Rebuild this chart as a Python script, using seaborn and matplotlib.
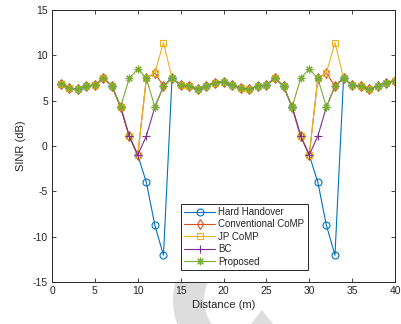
import matplotlib
matplotlib.use('Agg')
import matplotlib.pyplot as plt
from matplotlib.patches import Wedge, Polygon
import pandas as pd
import seaborn as sns

# distance samples (m)
distance = list(range(1, 41))

hard_handover = [6.8, 6.4, 6.25, 6.65, 6.7, 7.5, 6.6, 4.3, 1.1, -1.0,
                 -4.0, -8.75, -12.05, 7.5, 6.7, 6.6, 6.25, 6.6, 7.0, 7.1,
                 6.7, 6.4, 6.25, 6.6, 6.7, 7.5, 6.6, 4.3, 1.1, -1.0,
                 -4.0, -8.75, -12.05, 7.5, 6.7, 6.6, 6.25, 6.6, 7.0, 7.2]
conventional_comp = [6.8, 6.4, 6.25, 6.65, 6.7, 7.5, 6.6, 4.3, 1.1, -1.0,
                     7.45, 8.05, 6.6, 7.5, 6.7, 6.6, 6.25, 6.6, 7.0, 7.1,
                     6.7, 6.4, 6.25, 6.6, 6.7, 7.5, 6.6, 4.3, 1.1, -1.0,
                     7.45, 8.05, 6.6, 7.5, 6.7, 6.6, 6.25, 6.6, 7.0, 7.2]
jp_comp = [6.8, 6.4, 6.25, 6.65, 6.7, 7.5, 6.6, 4.3, 1.1, -1.0,
           7.45, 8.1, 11.4, 7.5, 6.7, 6.6, 6.25, 6.6, 7.0, 7.1,
           6.7, 6.4, 6.25, 6.6, 6.7, 7.5, 6.6, 4.3, 1.1, -1.0,
           7.45, 8.1, 11.4, 7.5, 6.7, 6.6, 6.25, 6.6, 7.0, 7.2]
bc = [6.8, 6.4, 6.25, 6.65, 6.7, 7.5, 6.6, 4.3, 1.1, -1.0,
      1.1, 4.3, 6.6, 7.5, 6.7, 6.6, 6.25, 6.6, 7.0, 7.1,
      6.7, 6.4, 6.25, 6.6, 6.7, 7.5, 6.6, 4.3, 1.1, -1.0,
      1.1, 4.3, 6.6, 7.5, 6.7, 6.6, 6.25, 6.6, 7.0, 7.2]
proposed = [6.8, 6.4, 6.25, 6.65, 6.7, 7.5, 6.6, 4.3, 7.45, 8.5,
            7.45, 4.3, 6.6, 7.5, 6.7, 6.6, 6.25, 6.6, 7.0, 7.1,
            6.7, 6.4, 6.25, 6.6, 6.7, 7.5, 6.6, 4.3, 7.45, 8.5,
            7.45, 4.3, 6.6, 7.5, 6.7, 6.6, 6.25, 6.6, 7.0, 7.2]

series_names = ['Hard Handover', 'Conventional CoMP', 'JP CoMP', 'BC', 'Proposed']
series_values = [hard_handover, conventional_comp, jp_comp, bc, proposed]
colors = ['#0072BD', '#D95319', '#EDB120', '#7E2F8E', '#77AC30']
# matlab-like markers; (8, 2, 0) is an 8-spoke asterisk
markers = ['o', 'd', 's', '+', (8, 2, 0)]
marker_sizes = [5, 5.5, 5, 6, 5.5]


def plot_sinr():
    sns.set_style('ticks')
    plt.rcParams['font.family'] = ['Liberation Sans', 'DejaVu Sans']
    plt.rcParams['axes.unicode_minus'] = False

    fig = plt.figure(figsize=(4.01, 3.24), dpi=100)
    ax = fig.add_axes([52 / 401, 42 / 324, 343 / 401, 272 / 324])

    # faint grey watermark behind the axes (display pixels)
    fig.patches.append(Wedge((245, 24), 72, 95, 275, width=31, transform=None,
                             facecolor='#dddddd', edgecolor='none', zorder=-10))
    fig.patches.append(Polygon([(251, 0), (262, 14), (273, 0)], closed=True,
                               transform=None, facecolor='#dddddd',
                               edgecolor='none', zorder=-10))

    for name, values, color, marker, ms in zip(series_names, series_values,
                                               colors, markers, marker_sizes):
        df = pd.DataFrame({'Distance': distance, 'SINR': values})
        sns.lineplot(data=df, x='Distance', y='SINR', ax=ax,
                     color=color, marker=marker, markersize=ms,
                     markerfacecolor='none', markeredgecolor=color,
                     markeredgewidth=0.8, linewidth=0.8, label=name)

    ax.set_xlim(0, 40)
    ax.set_ylim(-15, 15)
    ax.set_xticks(range(0, 41, 5))
    ax.set_yticks(range(-15, 16, 5))
    ax.tick_params(direction='in', top=True, right=True, length=3,
                   width=0.6, colors='#262626', labelsize=7.5, pad=3)
    for spine in ax.spines.values():
        spine.set_color('#262626')
        spine.set_linewidth(0.7)

    ax.set_xlabel('Distance (m)', fontsize=8, color='#262626', labelpad=3)
    ax.set_ylabel('SINR (dB)', fontsize=8, color='#262626', labelpad=5)

    leg = ax.legend(loc='lower left', bbox_to_anchor=(0.376, 0.044),
                    fontsize=7, frameon=True, fancybox=False,
                    handlelength=3.2, handletextpad=0.3, borderpad=0.35,
                    labelspacing=0.25, borderaxespad=0)
    leg.get_frame().set_edgecolor('#262626')
    leg.get_frame().set_linewidth(0.7)
    leg.get_frame().set_alpha(1)

    fig.savefig('out.png', dpi=100)
    plt.close(fig)


if __name__ == '__main__':
    plot_sinr()
